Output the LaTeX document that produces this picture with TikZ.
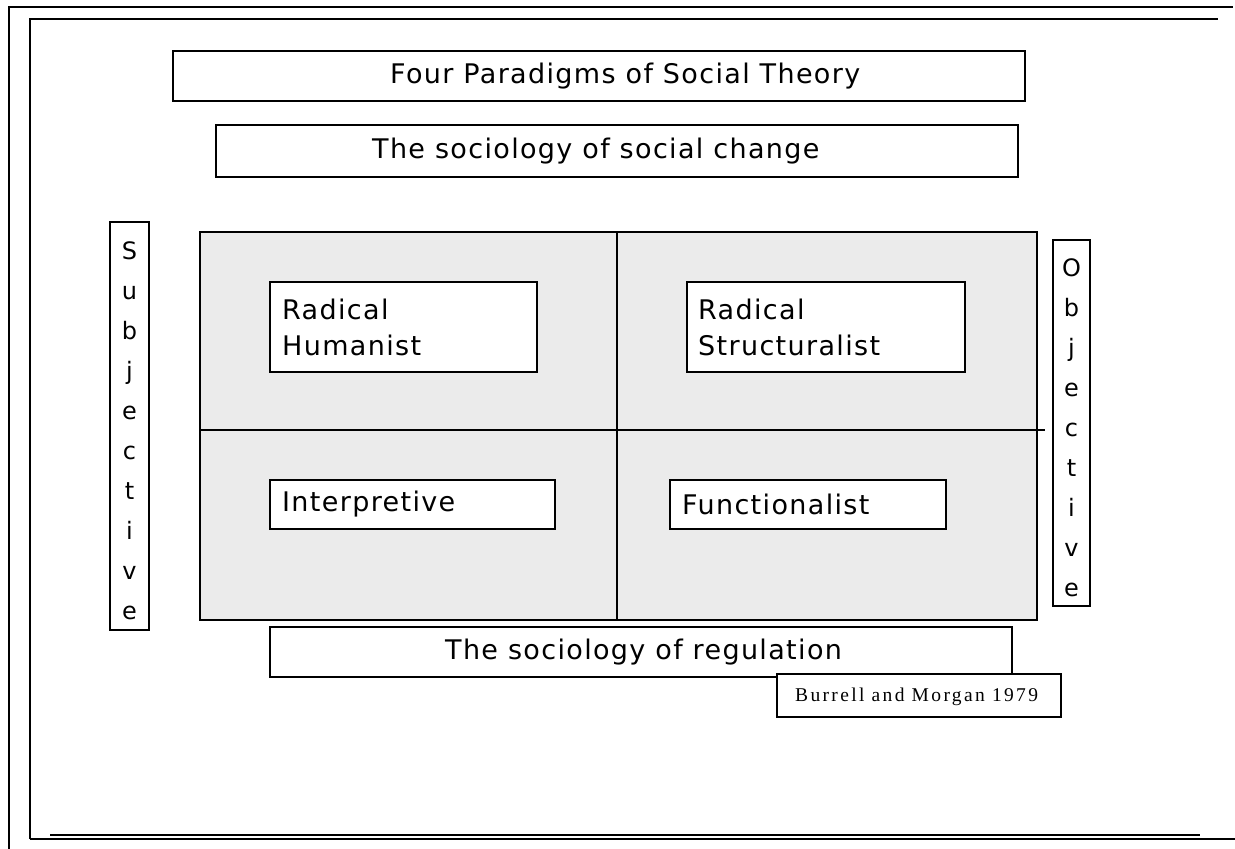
\documentclass[tikz,border=0pt]{standalone}
\usepackage{fontspec}
\setmainfont{DejaVu Sans}
\newfontfamily\citefont[LetterSpace=12]{Liberation Serif}
\newfontfamily\boxfont[LetterSpace=5]{DejaVu Sans}
\begin{document}
\begin{tikzpicture}[x=1pt,y=-1pt,
  frame/.style={line width=2.1pt},
  box/.style={draw,line width=2.1pt,fill=white,inner sep=0pt},
  lbl/.style={font=\boxfont\fontsize{27}{36}\selectfont,inner sep=0pt,anchor=west,align=left},
  vlbl/.style={font=\fontsize{24}{40}\selectfont,inner sep=0pt,align=center},
  quad/.style={draw,line width=2.1pt,fill=black!8}]
\useasboundingbox (0,0) rectangle (1235,849);

% page frames
\draw[frame] (9,849) -- (9,7) -- (1233,7);
\draw[frame] (30,839) -- (30,19) -- (1218,19);
\draw[frame] (30,839) -- (1235,839);
\draw[line width=1.2pt] (50,835) -- (1200,835);

% headings
\node[box,minimum width=852pt,minimum height=50pt] (title) at (599,76) {};
\node[lbl] (titlet) at (390,76) {Four Paradigms of Social Theory};
\node[box,minimum width=802pt,minimum height=52pt] (change) at (617,151) {};
\node[lbl] (changet) at (372,151) {The sociology of social change};

% four-paradigm grid
\draw[quad] (200,232) rectangle (1037,620);
\coordinate (vt) at (617,232);
\coordinate (vb) at (617,620);
\coordinate (hl) at (200,430);
\coordinate (hr) at (1045,430);
\draw[line width=1.5pt] (vt) -- (vb);
\draw[line width=1.5pt] (hl) -- (hr);

\node[box,minimum width=267pt,minimum height=90pt] (rh) at (403.5,327) {};
\node[lbl] (rht) at (282,327) {Radical\\Humanist};
\node[box,minimum width=278pt,minimum height=90pt] (rs) at (826,327) {};
\node[lbl] (rst) at (698,327) {Radical\\Structuralist};
\node[box,minimum width=285pt,minimum height=49pt] (ip) at (412.5,504.5) {};
\node[lbl] (ipt) at (282,504.5) {Interpretive};
\node[box,minimum width=276pt,minimum height=49pt] (fn) at (808,504.5) {};
\node[lbl] (fnt) at (682,504.5) {Functionalist};

% side axes
\node[box,minimum width=39pt,minimum height=408pt] (subj) at (129.5,426) {};
\node[vlbl] (subjt) at (129.5,431) {S\\u\\b\\j\\e\\c\\t\\i\\v\\e};
\node[box,minimum width=37pt,minimum height=366pt] (obj) at (1071.5,423) {};
\node[vlbl] (objt) at (1071.5,428) {O\\b\\j\\e\\c\\t\\i\\v\\e};

% bottom heading and source
\node[box,minimum width=742pt,minimum height=50pt] (reg) at (641,652) {};
\node[lbl] (regt) at (445,652) {The sociology of regulation};
\node[box,minimum width=284pt,minimum height=43pt] (src) at (919,695.5) {};
\node[font=\citefont\fontsize{19.5}{20}\selectfont,inner sep=0pt,anchor=west] (srct) at (795,697) {Burrell and Morgan 1979};
\end{tikzpicture}
\end{document}
